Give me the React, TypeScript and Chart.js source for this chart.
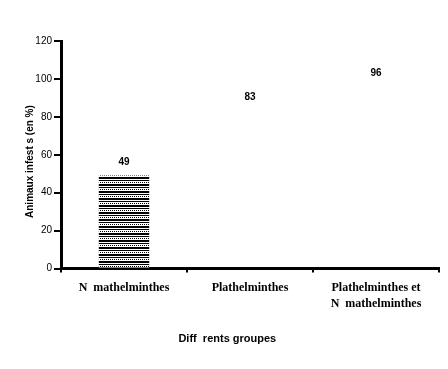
import React, { useEffect, useRef } from "react";
import { Chart, registerables } from "chart.js";

Chart.register(...registerables);

const categories: string[][] = [
  ["N  mathelminthes"],
  ["Plathelminthes"],
  ["Plathelminthes et", "N  mathelminthes"],
];
const values: number[] = [49, 83, 96];
const valueLabels: string[] = ["49", "83", "96"];
const yTitle = "Animaux infest s (en %)";
const xTitle = "Diff  rents groupes";

function makePattern(): CanvasPattern | string {
  const c = document.createElement("canvas");
  c.width = 4;
  c.height = 7;
  const g = c.getContext("2d");
  if (!g) return "#000";
  g.fillStyle = "#fff";
  g.fillRect(0, 0, 4, 7);
  g.fillStyle = "#000";
  // dotted row
  g.fillRect(0, 0, 1, 1);
  g.fillRect(2, 0, 1, 1);
  // solid rows
  g.fillRect(0, 2, 4, 2);
  g.fillRect(0, 5, 4, 1);
  const p = g.createPattern(c, "repeat");
  return p || "#000";
}

const valueLabelPlugin = {
  id: "valueLabels",
  afterDatasetsDraw(chart: any) {
    const ctx = chart.ctx;
    const meta = chart.getDatasetMeta(0);
    ctx.save();
    ctx.fillStyle = "#000";
    ctx.font = "bold 10px 'Liberation Sans', Arial, sans-serif";
    ctx.textAlign = "center";
    ctx.textBaseline = "middle";
    meta.data.forEach((bar: any, i: number) => {
      ctx.fillText(valueLabels[i], bar.x, bar.y - 13.5);
    });
    ctx.restore();
  },
};

// Axis titles, placed where the reference has them (slightly off-centre)
const axisTitlePlugin = {
  id: "axisTitles",
  afterDraw(chart: any) {
    const ctx = chart.ctx;
    const area = chart.chartArea;
    ctx.save();
    ctx.fillStyle = "#000";
    ctx.textAlign = "center";
    ctx.textBaseline = "alphabetic";
    // x title
    ctx.font = "bold 11px 'Liberation Sans', Arial, sans-serif";
    ctx.fillText(xTitle, area.left + (area.right - area.left) * 0.44, 341.5);
    // y title (rotated)
    ctx.font = "bold 10px 'Liberation Sans', Arial, sans-serif";
    ctx.translate(32.5, area.top + (area.bottom - area.top) * 0.53);
    ctx.rotate(-Math.PI / 2);
    ctx.fillText(yTitle, 0, 0);
    ctx.restore();
  },
};

export default function App() {
  const ref = useRef<HTMLCanvasElement | null>(null);
  useEffect(() => {
    if (!ref.current) return;
    const pattern = makePattern();
    const chart = new Chart(ref.current, {
      type: "bar",
      data: {
        labels: categories,
        datasets: [
          {
            data: values,
            backgroundColor: [pattern, "rgba(255,255,255,0)", "rgba(255,255,255,0)"] as any,
            borderWidth: 0,
            barPercentage: 0.4,
            categoryPercentage: 1,
          },
        ],
      },
      options: {
        animation: false,
        responsive: true,
        maintainAspectRatio: false,
        layout: { padding: { top: 41, right: 9, left: 0, bottom: 0 } },
        plugins: {
          legend: { display: false },
          tooltip: { enabled: false },
        },
        scales: {
          x: {
            offset: true,
            grid: {
              display: true,
              offset: true,
              drawOnChartArea: false,
              drawTicks: true,
              tickLength: 4,
              color: "#000",
              lineWidth: 2,
            },
            border: { display: true, color: "#000", width: 3 },
            ticks: {
              color: "#000",
              autoSkip: false,
              maxRotation: 0,
              minRotation: 0,
              padding: 7,
              font: { family: "'Liberation Serif', 'Times New Roman', serif", size: 12, weight: "bold", lineHeight: 1.35 },
            },
            title: { display: false, text: xTitle },
            afterFit(scale: any) {
              scale.height = 100.5;
            },
          },
          y: {
            min: 0,
            max: 120,
            ticks: {
              stepSize: 20,
              color: "#000",
              padding: 2,
              font: { family: "'Liberation Sans', Arial, sans-serif", size: 10 },
            },
            grid: {
              display: true,
              drawOnChartArea: false,
              drawTicks: true,
              tickLength: 7,
              color: "#000",
              lineWidth: 2,
            },
            border: { display: true, color: "#000", width: 3 },
            title: { display: false, text: yTitle },
            afterFit(scale: any) {
              scale.width = 61;
            },
          },
        },
      },
      plugins: [valueLabelPlugin, axisTitlePlugin],
    });
    return () => chart.destroy();
  }, []);
  return (
    <div style={{ position: "absolute", left: 0, top: 0, width: 448, height: 369, background: "#fff" }}>
      <canvas ref={ref} />
    </div>
  );
}
